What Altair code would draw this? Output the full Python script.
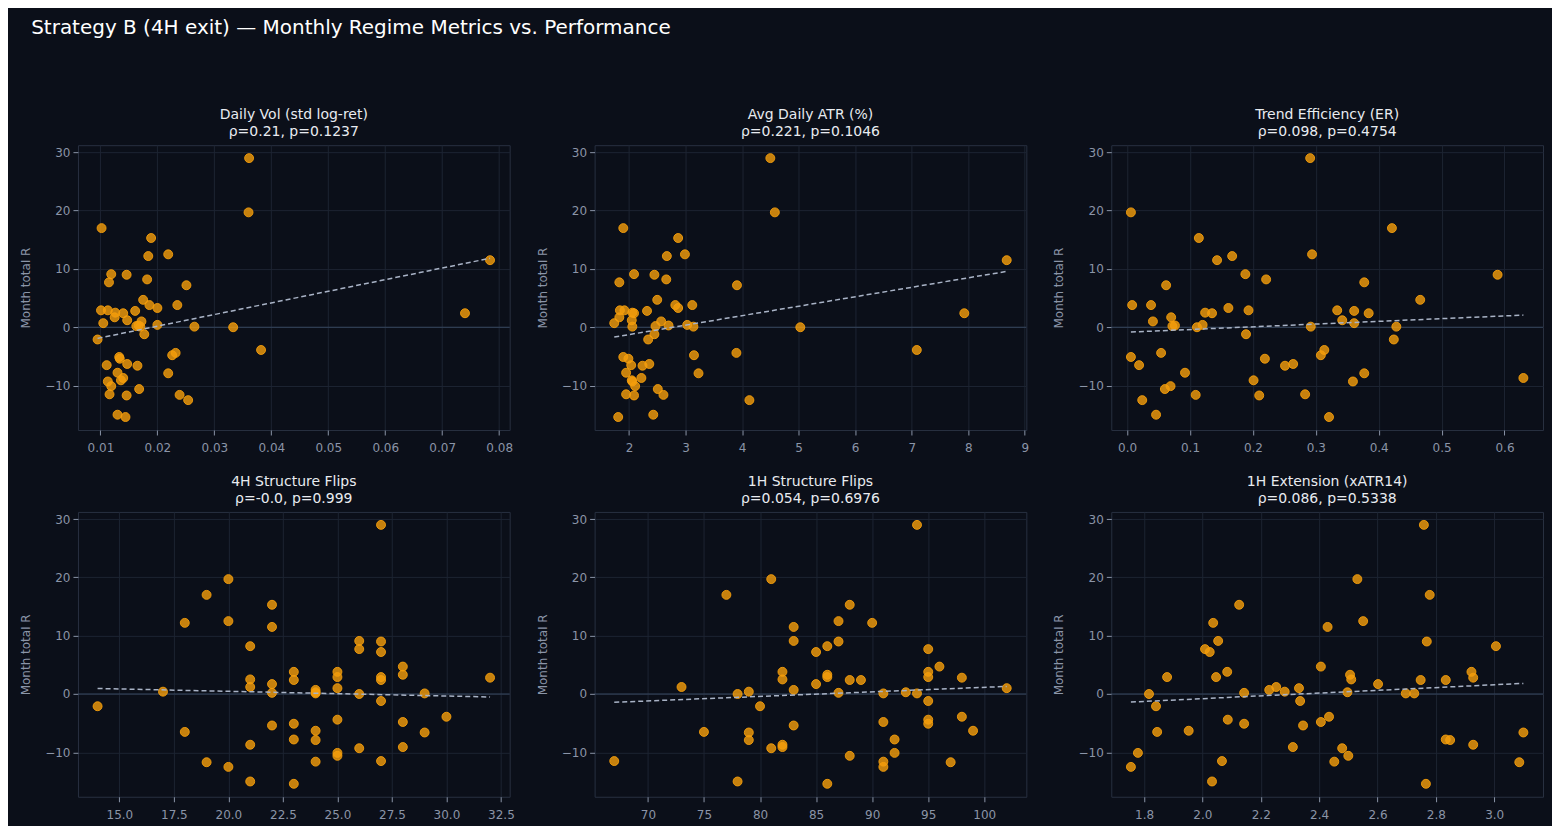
import altair as alt
import pandas as pd

# Monthly total R (one value per month, shared by every panel)
month_r = [29.0, 19.7, 17.0, 15.3, 12.5, 12.2, 11.5, 9.1, 9.0, 8.2, 7.7, 7.2, 4.7, 3.8, 3.8, 3.3,
           2.9, 2.9, 2.8, 2.5, 2.4, 2.4, 1.7, 1.2, 1.0, 0.7, 0.4, 0.3, 0.2, 0.1, 0.0, 0.1,
           -1.2, -2.1, -3.9, -4.4, -4.8, -5.1, -5.4, -6.3, -6.5, -6.6, -7.8, -7.9, -8.7, -9.1,
           -9.3, -10.1, -10.6, -11.5, -11.6, -11.7, -12.5, -15.0, -15.4]

daily_vol = [0.0361, 0.0360, 0.0102, 0.0189, 0.0219, 0.0184, 0.0784, 0.0119, 0.0146, 0.0182, 0.0115,
             0.0251, 0.0175, 0.0186, 0.0235, 0.0200, 0.0101, 0.0113, 0.0161, 0.0126, 0.0140, 0.0740,
             0.0125, 0.0147, 0.0172, 0.0105, 0.0200, 0.0167, 0.0163, 0.0265, 0.0333, 0.0170,
             0.0177, 0.0095, 0.0382, 0.0232, 0.0226, 0.0133, 0.0134, 0.0147, 0.0111, 0.0165,
             0.0130, 0.0219, 0.0140, 0.0136, 0.0113, 0.0119, 0.0168, 0.0116, 0.0239, 0.0146,
             0.0254, 0.0130, 0.0144]

avg_atr = [4.50, 4.58, 1.90, 2.87, 2.99, 2.67, 8.68, 2.09, 2.45, 2.66, 1.83, 3.91, 2.50, 2.82, 3.12,
           2.87, 1.84, 1.92, 2.32, 2.06, 2.09, 7.93, 1.83, 2.05, 2.57, 1.74, 3.03, 2.70, 2.47, 3.14,
           5.03, 2.06, 2.45, 2.34, 7.09, 3.90, 3.15, 1.90, 1.99, 2.36, 2.04, 2.24, 1.95, 3.23, 2.22,
           2.05, 2.06, 2.11, 2.51, 1.95, 2.61, 2.09, 4.13, 2.43, 1.81]

trend_er = [0.291, 0.006, 0.421, 0.114, 0.294, 0.167, 0.143, 0.188, 0.589, 0.221, 0.377, 0.062, 0.466,
            0.008, 0.038, 0.161, 0.193, 0.334, 0.361, 0.124, 0.135, 0.384, 0.070, 0.342, 0.041, 0.361,
            0.120, 0.076, 0.072, 0.428, 0.111, 0.292, 0.189, 0.424, 0.3135, 0.054, 0.308, 0.006,
            0.219, 0.264, 0.019, 0.251, 0.092, 0.377, 0.630, 0.201, 0.359, 0.069, 0.060, 0.283,
            0.109, 0.210, 0.024, 0.046, 0.321]

flips_4h = [27, 20, 19, 22, 20, 18, 22, 26, 27, 21, 26, 27, 28, 23, 25, 28, 25, 27, 32, 21, 23, 27, 22,
            21, 25, 24, 17, 24, 22, 29, 26, 24, 27, 14, 30, 25, 28, 23, 22, 24, 18, 29, 23, 24, 21, 28,
            26, 25, 25, 27, 24, 19, 20, 21, 23]

flips_1h = [94, 81, 77, 88, 87, 90, 83, 83, 87, 86, 95, 85, 96, 82, 95, 86, 95, 86, 98, 82, 88, 89, 85,
            73, 102, 83, 79, 93, 87, 91, 78, 94, 95, 80, 98, 95, 91, 95, 83, 99, 75, 79, 92, 79, 82, 82,
            81, 92, 88, 67, 91, 97, 91, 78, 86]

ext_1h = [2.759, 2.531, 2.779, 2.126, 2.551, 2.037, 2.429, 2.054, 2.769, 3.006, 2.009, 2.025, 2.406,
          2.085, 2.922, 2.506, 1.879, 2.047, 2.928, 2.510, 2.748, 2.834, 2.602, 2.253, 2.331, 2.229,
          2.282, 2.497, 2.143, 2.697, 1.817, 2.726, 2.335, 1.841, 2.434, 2.087, 2.406, 2.143, 2.345,
          1.953, 1.845, 3.100, 2.834, 2.849, 2.928, 2.310, 2.479, 1.779, 2.500, 2.067, 2.452, 3.086,
          1.755, 2.033, 2.766]

panel_names = ["Daily Vol (std log-ret)", "Avg Daily ATR (%)", "Trend Efficiency (ER)",
               "4H Structure Flips", "1H Structure Flips", "1H Extension (xATR14)"]
panel_stats = ["ρ=0.21, p=0.1237", "ρ=0.221, p=0.1046", "ρ=0.098, p=0.4754",
               "ρ=-0.0, p=0.999", "ρ=0.054, p=0.6976", "ρ=0.086, p=0.5338"]

ticks_vol = [0.01, 0.02, 0.03, 0.04, 0.05, 0.06, 0.07, 0.08]
ticks_atr = [2, 3, 4, 5, 6, 7, 8, 9]
ticks_er = [0.0, 0.1, 0.2, 0.3, 0.4, 0.5, 0.6]
ticks_4h = [15.0, 17.5, 20.0, 22.5, 25.0, 27.5, 30.0, 32.5]
ticks_1h = [70, 75, 80, 85, 90, 95, 100]
ticks_ext = [1.8, 2.0, 2.2, 2.4, 2.6, 2.8, 3.0]
ticks_y = [-10, 0, 10, 20, 30]

BG = "#0b0f19"
TXT = "#8b95a8"
W, H = 432, 285

ylo, yhi = min(month_r), max(month_r)
ypad = 0.05 * (yhi - ylo)
yscale = alt.Scale(domain=[ylo - ypad, yhi + ypad], nice=False, zero=False)


def panel(xvals, name, stats, ticks, fmt):
    df = pd.DataFrame({"x": xvals, "y": month_r})
    lo, hi = min(xvals), max(xvals)
    pad = 0.05 * (hi - lo)
    xscale = alt.Scale(domain=[lo - pad, hi + pad], nice=False, zero=False)
    xenc = alt.X("x:Q", scale=xscale,
                 axis=alt.Axis(values=ticks, format=fmt, title=None, labelPadding=8))
    yenc = alt.Y("y:Q", scale=yscale,
                 axis=alt.Axis(values=ticks_y, format="d", title="Month total R"))
    base = alt.Chart(df)
    zero = alt.Chart(pd.DataFrame({"z": [0]})).mark_rule(
        color="#36465e", strokeWidth=1).encode(y=alt.Y("z:Q", scale=yscale))
    pts = base.mark_circle(size=80, color="#f59e0b", fillOpacity=0.8,
                           stroke="#f59e0b", strokeWidth=1, strokeOpacity=0.9).encode(x=xenc, y=yenc)
    reg = base.transform_regression("x", "y").mark_line(
        color="#a9b3c6", strokeWidth=1.5, strokeDash=[5, 3]).encode(x=xenc, y=yenc)
    return alt.layer(zero, pts, reg).properties(
        width=W, height=H,
        title=alt.TitleParams(text=[name, stats], fontSize=14, color="#e8ebf0",
                              fontWeight="normal", font="DejaVu Sans", lineHeight=17,
                              offset=6, anchor="middle"))


p = [
    panel(daily_vol, panel_names[0], panel_stats[0], ticks_vol, ".2f"),
    panel(avg_atr, panel_names[1], panel_stats[1], ticks_atr, "d"),
    panel(trend_er, panel_names[2], panel_stats[2], ticks_er, ".1f"),
    panel(flips_4h, panel_names[3], panel_stats[3], ticks_4h, ".1f"),
    panel(flips_1h, panel_names[4], panel_stats[4], ticks_1h, "d"),
    panel(ext_1h, panel_names[5], panel_stats[5], ticks_ext, ".1f"),
]

chart = alt.concat(*p, columns=3, spacing={"row": 82, "column": 85}, bounds="flush").properties(
    title=alt.TitleParams(text="Strategy B (4H exit) — Monthly Regime Metrics vs. Performance",
                          fontSize=20, color="#ffffff", fontWeight="normal", font="DejaVu Sans",
                          anchor="start", offset=70, dx=12),
    background=BG,
    padding={"left": 11, "top": 9, "right": 8, "bottom": 4},
).configure_view(
    stroke="#283040", strokeWidth=1, fill=BG
).configure_axis(
    grid=True, gridColor="#1d2432", gridWidth=1, domain=False,
    labelColor=TXT, labelFont="DejaVu Sans", labelFontSize=12, labelPadding=3,
    tickColor=TXT, tickSize=5, tickWidth=1,
    titleColor=TXT, titleFont="DejaVu Sans", titleFontSize=12, titleFontWeight="normal",
    titlePadding=12,
)

chart.save("out.html", embed_options={"renderer": "svg", "actions": False})
